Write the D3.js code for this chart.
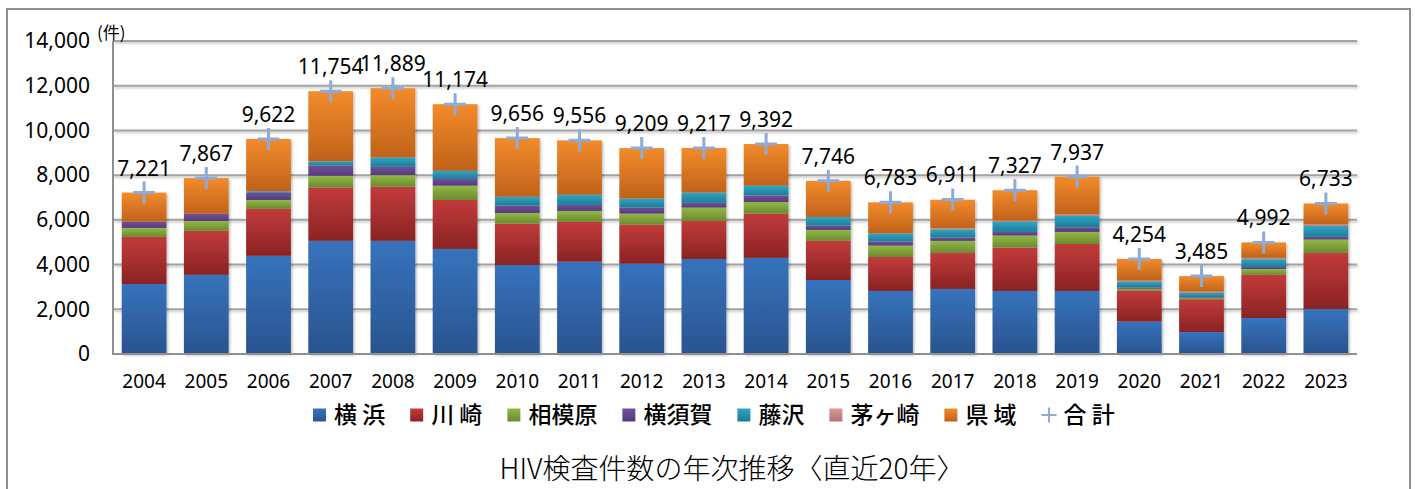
<!DOCTYPE html>
<html>
<head>
<meta charset="utf-8">
<script src="https://cdn.jsdelivr.net/npm/d3@7"></script>
<style>
  body { margin: 0; background: #fff; }
  svg { display: block; }
  text { font-family: "Noto Sans", "Noto Sans CJK JP", sans-serif; fill: #000; }
  .jp { font-family: "Noto Sans CJK JP", "Noto Sans", sans-serif; }
</style>
</head>
<body>
<svg id="chart" width="1415" height="489"></svg>
<script>
// data (件)
var years = ["2004","2005","2006","2007","2008","2009","2010","2011","2012","2013",
             "2014","2015","2016","2017","2018","2019","2020","2021","2022","2023"];
var yokohama   = [3130,3540,4390,5060,5060,4700,3980,4130,4040,4250,4300,3310,2820,2910,2820,2820,1450,980,1610,2010];
var kawasaki   = [2110,1970,2100,2390,2420,2190,1850,1780,1750,1700,1980,1750,1520,1610,1940,2100,1380,1470,1930,2510];
var sagamihara = [400,440,400,520,520,640,480,490,490,600,520,490,510,540,540,540,90,60,260,600];
var yokosuka   = [280,320,320,460,370,300,330,270,270,210,290,190,180,150,160,210,60,30,90,120];
var fujisawa   = [0,0,70,190,420,360,390,450,400,460,440,390,360,360,460,510,260,200,350,490];
var chigasaki  = [0,0,0,0,0,0,0,0,0,0,0,0,0,50,50,60,40,50,60,60];
var kenniki    = [1301,1597,2342,3134,3099,2984,2626,2436,2259,1997,1862,1616,1393,1281,1357,1697,974,695,692,943];
var totals     = [7221,7867,9622,11754,11889,11174,9656,9556,9209,9217,9392,7746,6783,6911,7327,7937,4254,3485,4992,6733];
var yTicks     = [0,2000,4000,6000,8000,10000,12000,14000];

var seriesNames = ["横 浜","川 崎","相模原","横須賀","藤沢","茅ヶ崎","県 域"];
var seriesKeys  = ["yokohama","kawasaki","sagamihara","yokosuka","fujisawa","chigasaki","kenniki"];
var seriesData  = [yokohama,kawasaki,sagamihara,yokosuka,fujisawa,chigasaki,kenniki];
// gradient top / bottom colours
var colorTop    = ["#3673bd","#c23b3b","#92b845","#70509c","#2ea6c6","#dc9a99","#f38b2b"];
var colorBottom = ["#2a548f","#8a2323","#6a8a2f","#553a7a","#1f7b95","#b27272","#c0621b"];
var totalName = "合 計";
var plusColor = "#8eaad6";

var table = years.map(function(yr, i) {
    var row = { year: yr, total: totals[i] };
    seriesKeys.forEach(function(k, j) { row[k] = seriesData[j][i]; });
    return row;
});

var svg = d3.select("#chart");

var defs = svg.append("defs");
seriesKeys.forEach(function(k, j) {
    var g = defs.append("linearGradient")
        .attr("id", "grad-" + k)
        .attr("x1", 0).attr("y1", 0).attr("x2", 0).attr("y2", 1);
    g.append("stop").attr("offset", "0%").attr("stop-color", colorTop[j]);
    g.append("stop").attr("offset", "100%").attr("stop-color", colorBottom[j]);
});
var shadow = defs.append("filter").attr("id", "shadow")
    .attr("x", "-10%").attr("y", "-10%").attr("width", "130%").attr("height", "130%");
shadow.append("feDropShadow")
    .attr("dx", 1.5).attr("dy", 1.5).attr("stdDeviation", 1.2)
    .attr("flood-color", "#000").attr("flood-opacity", 0.25);

// outer frame
svg.append("rect")
    .attr("x", 7).attr("y", 9)
    .attr("width", 1403).attr("height", 500)
    .attr("fill", "none")
    .attr("stroke", "#8f8f8f")
    .attr("stroke-width", 2);

var plotLeft = 113, plotRight = 1357, plotTop = 41, plotBottom = 354;

var x = d3.scaleBand()
    .domain(years)
    .range([plotLeft, plotRight])
    .paddingInner(0.28)
    .paddingOuter(0.14);

var y = d3.scaleLinear()
    .domain([0, 14000])
    .range([plotBottom, plotTop]);

// gridlines
svg.append("g")
    .attr("filter", "url(#shadow)")
    .selectAll("line.grid")
    .data(yTicks.filter(function(d) { return d > 0; }))
    .enter().append("line")
        .attr("class", "grid")
        .attr("x1", plotLeft).attr("x2", plotRight)
        .attr("y1", function(d) { return y(d); })
        .attr("y2", function(d) { return y(d); })
        .attr("stroke", "#a3a3a3")
        .attr("stroke-width", 2);

// y axis labels
var yAxis = svg.append("g")
    .attr("transform", "translate(" + (plotLeft - 23) + ",0)")
    .call(d3.axisLeft(y).tickValues(yTicks).tickSize(0).tickPadding(0)
        .tickFormat(d3.format(",")));
yAxis.select(".domain").remove();
yAxis.selectAll("text")
    .attr("font-size", 21)
    .attr("font-family", "Noto Sans")
    .attr("fill", "#000");

svg.append("text")
    .attr("class", "jp")
    .attr("x", 97).attr("y", 39)
    .attr("font-size", 17)
    .text("(件)");

// stacked bars
var stack = d3.stack().keys(seriesKeys);
var layers = stack(table);

svg.append("g")
    .attr("filter", "url(#shadow)")
    .selectAll("g.layer")
    .data(layers)
    .enter().append("g")
        .attr("class", "layer")
        .attr("fill", function(d) { return "url(#grad-" + d.key + ")"; })
    .selectAll("rect")
    .data(function(d) { return d.filter(function(p) { return p[1] - p[0] > 0; }); })
    .enter().append("rect")
        .attr("x", function(d) { return x(d.data.year); })
        .attr("width", x.bandwidth())
        .attr("y", function(d) { return y(d[1]); })
        .attr("height", function(d) { return y(d[0]) - y(d[1]); });

// axis lines
svg.append("line")
    .attr("x1", plotLeft).attr("x2", plotLeft)
    .attr("y1", plotTop).attr("y2", plotBottom)
    .attr("stroke", "#8f8f8f").attr("stroke-width", 2);
svg.append("line")
    .attr("x1", plotLeft - 1).attr("x2", plotRight)
    .attr("y1", plotBottom).attr("y2", plotBottom)
    .attr("stroke", "#8f8f8f").attr("stroke-width", 2);

// x axis labels
var xAxis = svg.append("g")
    .attr("transform", "translate(0," + (plotBottom + 20) + ")")
    .call(d3.axisBottom(x).tickSize(0).tickPadding(0));
xAxis.select(".domain").remove();
xAxis.selectAll("text")
    .attr("font-size", 19)
    .attr("font-family", "Noto Sans")
    .attr("fill", "#000");

// total markers
var plus = 11;
var totalG = svg.append("g").selectAll("g.total")
    .data(table)
    .enter().append("g")
        .attr("class", "total")
        .attr("transform", function(d) {
            return "translate(" + (x(d.year) + x.bandwidth() / 2) + "," + y(d.total) + ")";
        });
totalG.append("path")
    .attr("d", "M" + (-plus) + ",0H" + plus + "M0," + (-plus) + "V" + plus)
    .attr("stroke", plusColor)
    .attr("stroke-width", 3)
    .attr("fill", "none");
totalG.append("text")
    .attr("text-anchor", "middle")
    .attr("y", -17)
    .attr("font-size", 21)
    .text(function(d) { return d3.format(",")(d.total); });

// legend
var legend = svg.append("g").attr("transform", "translate(313,415)");
var lx = 0;
seriesNames.concat([totalName]).forEach(function(name, i) {
    var item = legend.append("g").attr("transform", "translate(" + lx + ",0)");
    if (i < seriesKeys.length) {
        item.append("rect")
            .attr("x", 0).attr("y", -6.5)
            .attr("width", 13).attr("height", 13)
            .attr("fill", "url(#grad-" + seriesKeys[i] + ")");
        var t = item.append("text").attr("class", "jp")
            .attr("x", 21).attr("dy", "0.36em")
            .attr("font-size", 23)
            .attr("font-weight", 500)
            .text(name);
        lx += 21 + t.node().getComputedTextLength() + 25;
    } else {
        item.append("path")
            .attr("d", "M0,0H15M7.5,-7.5V7.5")
            .attr("stroke", plusColor).attr("stroke-width", 2).attr("fill", "none");
        item.append("text").attr("class", "jp")
            .attr("x", 22).attr("dy", "0.36em")
            .attr("font-size", 23)
            .attr("font-weight", 500)
            .text(name);
    }
});

// title
svg.append("text")
    .attr("class", "jp")
    .attr("x", 732).attr("y", 479)
    .attr("text-anchor", "middle")
    .attr("font-size", 28)
    .attr("font-weight", 300)
    .text("HIV検査件数の年次推移〈直近20年〉");
</script>
</body>
</html>
